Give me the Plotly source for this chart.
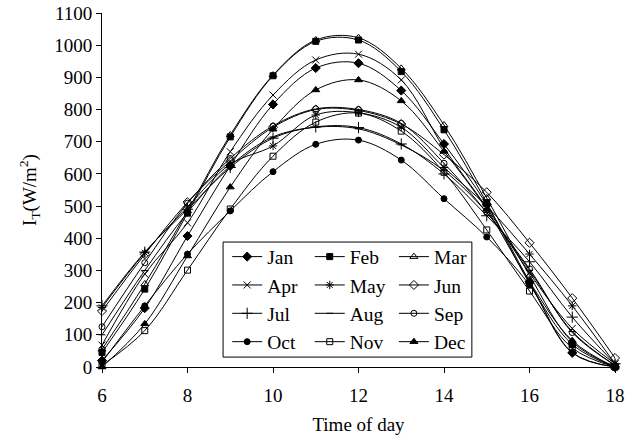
import plotly.graph_objects as go

hours = [6, 7, 8, 9, 10, 11, 12, 13, 14, 15, 16, 17, 18]
x_ticks = [6, 8, 10, 12, 14, 16, 18]
y_ticks = list(range(0, 1101, 100))

months = ["Jan", "Feb", "Mar", "Apr", "May", "Jun",
          "Jul", "Aug", "Sep", "Oct", "Nov", "Dec"]

jan = [20, 183, 407, 625, 816, 929, 944, 859, 693, 505, 265, 44, 0]
feb = [45, 242, 478, 715, 905, 1012, 1016, 918, 737, 510, 260, 70, 0]
mar = [55, 258, 485, 721, 907, 1016, 1023, 928, 752, 525, 285, 78, 0]
apr = [68, 289, 448, 669, 845, 954, 972, 892, 680, 495, 292, 120, 10]
may = [185, 355, 497, 630, 687, 783, 790, 745, 620, 500, 351, 190, 10]
jun = [174, 350, 512, 640, 745, 800, 797, 755, 660, 543, 386, 214, 28]
jul = [190, 357, 490, 620, 711, 746, 744, 693, 600, 470, 327, 155, 10]
aug = [100, 300, 480, 625, 715, 745, 740, 690, 610, 480, 300, 110, 5]
sep = [125, 324, 509, 648, 749, 802, 800, 757, 633, 480, 305, 107, 5]
oct_ = [15, 190, 351, 485, 607, 692, 705, 643, 523, 404, 255, 45, 0]
nov = [5, 113, 301, 491, 655, 761, 789, 733, 605, 426, 236, 59, 0]
dec = [0, 134, 345, 559, 739, 861, 892, 827, 670, 490, 265, 82, 0]

series = [jan, feb, mar, apr, may, jun, jul, aug, sep, oct_, nov, dec]
symbols = ["diamond", "square", "triangle-up-open", "x-thin-open", "asterisk-open",
           "diamond-open", "cross-thin-open", "line-ew-open", "circle-open",
           "circle", "square-open", "triangle-up"]
sizes = [7, 6, 7, 7, 7, 7, 8, 5, 6, 6, 6, 7]
legend_ids = ["legend", "legend2", "legend3"]

FONT = "Liberation Serif"

fig = go.Figure()
for i, (name, ys) in enumerate(zip(months, series)):
    fig.add_trace(go.Scatter(
        x=hours, y=ys, name=name, mode="lines+markers",
        line=dict(color="black", width=1, shape="spline", smoothing=1),
        marker=dict(symbol=symbols[i], size=sizes[i], color="black",
                    line=dict(color="black", width=1)),
        cliponaxis=False,
        legend=legend_ids[i % 3],
    ))

leg_common = dict(bgcolor="rgba(0,0,0,0)", borderwidth=0,
                  font=dict(family=FONT, size=19.5, color="black"),
                  yanchor="top", xanchor="left", orientation="v",
                  tracegroupgap=0)

fig.update_layout(
    width=635, height=436,
    margin=dict(l=102, r=20, t=13, b=69, autoexpand=False),
    paper_bgcolor="white", plot_bgcolor="white",
    font=dict(family=FONT, size=19, color="black"),
    showlegend=True,
    legend=dict(x=0.244, y=0.366, **leg_common),
    legend2=dict(x=0.405, y=0.366, **leg_common),
    legend3=dict(x=0.569, y=0.366, **leg_common),
    xaxis=dict(range=[6, 18], tickvals=x_ticks, ticks="outside", ticklen=5,
               tickcolor="black", showline=True, linecolor="black", linewidth=1,
               showgrid=False, zeroline=False, ticklabelstandoff=6, automargin=False,
               tickfont=dict(family=FONT, size=19),
               title=dict(text="Time of day", font=dict(family=FONT, size=19), standoff=12)),
    yaxis=dict(range=[0, 1100], tickvals=y_ticks, ticks="outside", ticklen=5,
               tickcolor="black", showline=True, linecolor="black", linewidth=1,
               showgrid=False, zeroline=False, automargin=False,
               tickfont=dict(family=FONT, size=19),
               title=dict(text="I<sub>T</sub>(W/m<sup>2</sup>)",
                          font=dict(family=FONT, size=19), standoff=12)),
    shapes=[dict(type="rect", xref="paper", yref="paper",
                 x0=0.236, x1=0.721, y0=0.028, y1=0.353,
                 line=dict(color="black", width=1), fillcolor="rgba(0,0,0,0)")],
)

fig.write_html("out.html")
